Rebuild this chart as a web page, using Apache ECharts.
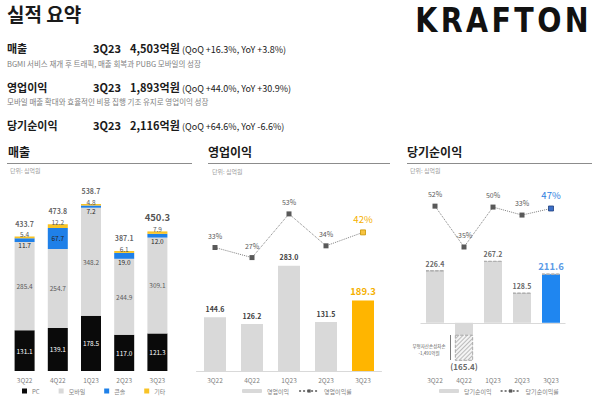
<!DOCTYPE html>
<html>
<head>
<meta charset="utf-8">
<title>실적 요약</title>
<script src="https://cdn.jsdelivr.net/npm/echarts@6/dist/echarts.min.js"></script>
<style>
  body { margin: 0; width: 600px; height: 399px; position: relative; background: #fff; overflow: hidden;
         font-family: 'Noto Sans CJK KR', sans-serif; color: #1a1a1a; }
  #container { position: absolute; left: 0; top: 0; width: 600px; height: 399px; }
  .t { position: absolute; white-space: nowrap; line-height: 1; z-index: 2; }
  .b { font-weight: 700; }
  .row { font-size: 11px; font-weight: 700; }
  .par { font-size: 9px; font-weight: 400; }
  .sub { font-size: 7.5px; color: #808080; }
  .sec { font-size: 12px; font-weight: 700; }
  .unit { font-size: 6px; color: #a0a0a0; }
  .rule { position: absolute; height: 0; border-top: 1.5px solid #8c8c8c; top: 163px; z-index: 2; }
  .logo { right: 8px; top: 4px; font-family: 'DejaVu Sans Condensed', 'DejaVu Sans'; font-weight: 700;
          font-size: 33px; letter-spacing: 3.5px; color: #111; transform: scaleX(0.96); transform-origin: right top; }
</style>
</head>
<body>
  <div class="t b" style="left:7px;top:4px;font-size:19px;">실적 요약</div>
  <div class="t logo">KRAFTON</div>

  <div class="t row" style="left:7px;top:43px;">매출</div>
  <div class="t row" style="left:93px;top:43px;">3Q23</div>
  <div class="t row" style="left:130px;top:43px;">4,503억원</div>
  <div class="t par" style="left:182px;top:45px;">(QoQ +16.3%, YoY +3.8%)</div>
  <div class="t sub" style="left:7px;top:60px;">BGMI 서비스 재개 후 트래픽, 매출 회복과 PUBG 모바일의 성장</div>

  <div class="t row" style="left:7px;top:82px;">영업이익</div>
  <div class="t row" style="left:93px;top:82px;">3Q23</div>
  <div class="t row" style="left:130px;top:82px;">1,893억원</div>
  <div class="t par" style="left:182px;top:84px;">(QoQ +44.0%, YoY +30.9%)</div>
  <div class="t sub" style="left:7px;top:98px;">모바일 매출 확대와 효율적인 비용 집행 기조 유지로 영업이익 성장</div>

  <div class="t row" style="left:7px;top:120px;">당기순이익</div>
  <div class="t row" style="left:93px;top:120px;">3Q23</div>
  <div class="t row" style="left:130px;top:120px;">2,116억원</div>
  <div class="t par" style="left:182px;top:122px;">(QoQ +64.6%, YoY -6.6%)</div>

  <div class="t sec" style="left:8px;top:146px;">매출</div>
  <div class="rule" style="left:7px;width:185px;"></div>
  <div class="t unit" style="left:10px;top:168px;">단위: 십억원</div>

  <div class="t sec" style="left:208px;top:146px;">영업이익</div>
  <div class="rule" style="left:208px;width:182px;"></div>
  <div class="t unit" style="left:212px;top:169px;">단위: 십억원</div>

  <div class="t sec" style="left:407px;top:146px;">당기순이익</div>
  <div class="rule" style="left:407px;width:185px;"></div>
  <div class="t unit" style="left:410px;top:168px;">단위: 십억원</div>

  <div id="container"></div>

<script type="text/javascript">
  // 분기
  var quarters = ['3Q22', '4Q22', '1Q23', '2Q23', '3Q23'];
  // 매출 (십억원)
  var revPC = [131.1, 139.1, 178.5, 117.0, 121.3];
  var revMobile = [285.4, 254.7, 348.2, 244.9, 309.1];
  var revConsole = [11.7, 67.7, 7.2, 19.0, 12.0];
  var revOther = [5.4, 12.2, 4.8, 6.1, 7.9];
  var revTotal = [433.7, 473.8, 538.7, 387.1, 450.3];
  // 영업이익
  var opProfit = [144.6, 126.2, 283.0, 131.5, 189.3];
  var opMargin = [33, 27, 53, 34, 42];
  // 당기순이익
  var netIncome = [226.4, -165.4, 267.2, 128.5, 211.6];
  var impairPart = [0, -113, 0, 0, 0]; // 빗금 부분 (그림에서 추정)
  var netMargin = [52, -35, 50, 33, 47];

  var FONT = 'Noto Sans CJK KR';
  var last = quarters.length - 1;
  function f1(v) { return (typeof v === 'object' ? v.value : v).toFixed(1); }

  var dom = document.getElementById('container');
  var myChart = echarts.init(dom, null, { renderer: 'svg' });

  // 콘솔 라벨: 작은 값은 막대 아래쪽 경계에
  var consoleData = revConsole.map(function (v) {
    if (v > 30) return { value: v, label: { position: 'inside' } };
    return { value: v, label: { position: ['50%', '100%'], align: 'center', verticalAlign: 'middle', offset: [0, 3] } };
  });
  var totalData = revTotal.map(function (v, i) {
    return i == last ? { value: v, label: { fontSize: 9.5, color: '#262626' } } : v;
  });
  var opData = opProfit.map(function (v, i) {
    return i == last ? { value: v, itemStyle: { color: '#ffb500' }, label: { fontSize: 9.5, color: '#f5b000' } } : v;
  });
  var opMarginData = opMargin.map(function (v, i) {
    return i == last ? { value: v, itemStyle: { color: '#f7c340', borderColor: '#c89400', borderWidth: 0.8 },
                         label: { fontSize: 9.5, color: '#f5b000' } } : v;
  });
  var niSolid = netIncome.map(function (v, i) {
    var s = Math.round((v - impairPart[i]) * 10) / 10;
    return i == last ? { value: s, itemStyle: { color: '#1f86f0' } } : s;
  });
  var niLabelData = netIncome.map(function (v, i) {
    if (i == last) return { value: v, label: { fontSize: 9.5, color: '#2f80e0' } };
    if (v < 0) return { value: v, label: { position: 'bottom', distance: 1, fontSize: 8 } };
    return v;
  });
  var netMarginData = netMargin.map(function (v, i) {
    return i == last ? { value: v, itemStyle: { color: '#3b6fc8', borderColor: '#1f3f7a', borderWidth: 0.8 },
                         label: { fontSize: 9.5, color: '#2f80e0' } } : v;
  });

  var catAxis = function (idx, showLine) {
    return {
      type: 'category', gridIndex: idx, data: quarters,
      axisTick: { show: false },
      axisLine: { show: showLine, onZero: false, lineStyle: { color: '#d9d9d9', width: 1 } },
      axisLabel: { fontSize: 6.5, color: '#808080', margin: 6, fontFamily: FONT }
    };
  };
  var marginLine = function (name, xi, yi, data) {
    return {
      name: name, type: 'line', xAxisIndex: xi, yAxisIndex: yi, data: data, z: 5,
      symbol: 'rect', symbolSize: 5,
      lineStyle: { type: 'dotted', width: 1, color: '#808080' },
      itemStyle: { color: '#595959' },
      label: { show: true, position: 'top', distance: 6, fontSize: 7, color: '#595959',
               formatter: function (p) { return p.value + '%'; } }
    };
  };
  var legendText = { fontSize: 6, color: '#808080', fontFamily: FONT };

  var option = {
    animation: false,
    textStyle: { fontFamily: FONT },
    grid: [
      { left: 8, width: 166, top: 185, height: 186 },
      { left: 196.5, width: 185, top: 185, height: 186 },
      { left: 420.5, width: 145, top: 185, height: 186 }
    ],
    xAxis: [catAxis(0, false), catAxis(1, true), catAxis(2, false)],
    yAxis: [
      { gridIndex: 0, show: false, min: 0, max: 600 },
      { gridIndex: 1, show: false, min: 0, max: 500 },
      { gridIndex: 1, show: false, min: -40.5, max: 70.2 },
      { gridIndex: 2, show: false, min: -210, max: 600 },
      { gridIndex: 2, show: false, min: -299, max: 97 }
    ],
    legend: [
      { data: ['PC', '모바일', '콘솔', '기타'], left: 22, top: 388, icon: 'rect', itemWidth: 5, itemHeight: 5,
        itemGap: 19, padding: 0, textStyle: legendText },
      { data: ['영업이익', '영업이익률'], left: 242, top: 388, itemWidth: 20, itemHeight: 4, itemGap: 9,
        padding: 0, textStyle: legendText },
      { data: ['당기순이익', '당기순이익률'], left: 439, top: 388, itemWidth: 20, itemHeight: 4, itemGap: 8,
        padding: 0, textStyle: legendText }
    ],
    graphic: [
      { type: 'line', shape: { x1: 450.5, y1: 335, x2: 450.5, y2: 360 }, style: { stroke: '#595959', lineWidth: 0.8 } },
      { type: 'text', x: 429, y: 346, style: { text: '무형자산손상차손', fontSize: 4.5, fill: '#595959', align: 'center', verticalAlign: 'middle', fontFamily: FONT } },
      { type: 'text', x: 429, y: 352.5, style: { text: '-1,491억원', fontSize: 4.5, fill: '#595959', align: 'center', verticalAlign: 'middle', fontFamily: FONT } }
    ],
    series: [
      // 매출
      { name: 'PC', type: 'bar', stack: 'rev', xAxisIndex: 0, yAxisIndex: 0, barWidth: 20, data: revPC,
        itemStyle: { color: '#0a0a0a' },
        label: { show: true, position: 'inside', color: '#fff', fontSize: 6.5, formatter: f1 } },
      { name: '모바일', type: 'bar', stack: 'rev', xAxisIndex: 0, yAxisIndex: 0, data: revMobile,
        itemStyle: { color: '#d9d9d9' },
        label: { show: true, position: 'inside', color: '#595959', fontSize: 6.5, formatter: f1 } },
      { name: '콘솔', type: 'bar', stack: 'rev', xAxisIndex: 0, yAxisIndex: 0, data: consoleData,
        itemStyle: { color: '#1f80e8' },
        label: { show: true, color: '#262626', fontSize: 6.5, formatter: f1 } },
      { name: '기타', type: 'bar', stack: 'rev', xAxisIndex: 0, yAxisIndex: 0, data: revOther,
        itemStyle: { color: '#f8c326' },
        label: { show: true, position: ['50%', 0], align: 'center', verticalAlign: 'middle', offset: [0, -2.5],
                 color: '#595959', fontSize: 6.5, formatter: f1 } },
      { name: '합계', type: 'scatter', xAxisIndex: 0, yAxisIndex: 0, data: totalData, symbolSize: 1, silent: true,
        itemStyle: { color: 'rgba(0,0,0,0)' },
        label: { show: true, position: 'top', distance: 9, fontSize: 7, fontWeight: 'bold', color: '#404040', formatter: f1 } },
      // 영업이익
      { name: '영업이익', type: 'bar', xAxisIndex: 1, yAxisIndex: 1, barWidth: 22, data: opData,
        itemStyle: { color: '#d9d9d9' },
        label: { show: true, position: 'top', distance: 5, fontSize: 7, fontWeight: 'bold', color: '#404040', formatter: f1 } },
      marginLine('영업이익률', 1, 2, opMarginData),
      // 당기순이익
      { name: '당기순이익', type: 'bar', stack: 'ni', xAxisIndex: 2, yAxisIndex: 3, barWidth: 18, data: niSolid,
        itemStyle: { color: '#d9d9d9' },
        markLine: { silent: true, symbol: 'none', label: { show: false },
                    lineStyle: { type: 'solid', color: '#d9d9d9', width: 1 }, data: [{ yAxis: 0 }] } },
      { name: '손상차손', type: 'bar', stack: 'ni', xAxisIndex: 2, yAxisIndex: 3, data: impairPart,
        itemStyle: { color: '#f4f4f4', borderColor: '#b0b0b0', borderType: 'dashed', borderWidth: 0.8,
                     decal: { symbol: 'rect', color: 'rgba(140,140,140,0.55)', dashArrayX: [1, 0], dashArrayY: [1, 2],
                              rotation: -Math.PI / 4 } } },
      { name: '순이익라벨', type: 'scatter', xAxisIndex: 2, yAxisIndex: 3, data: niLabelData, symbolSize: 1, silent: true,
        itemStyle: { color: 'rgba(0,0,0,0)' },
        label: { show: true, position: 'top', distance: 3, fontSize: 7, fontWeight: 'bold', color: '#404040',
                 formatter: function (p) { return p.value < 0 ? '(' + (-p.value).toFixed(1) + ')' : p.value.toFixed(1); } } },
      marginLine('당기순이익률', 2, 4, netMarginData)
    ]
  };
  myChart.setOption(option);
</script>
</body>
</html>
